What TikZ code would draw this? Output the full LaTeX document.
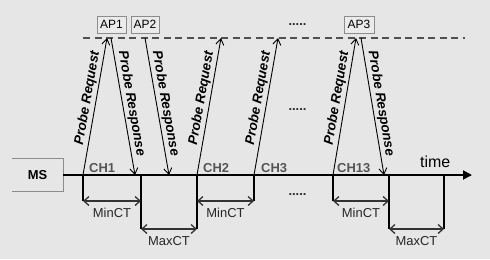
\documentclass[tikz,border=0pt]{standalone}
\usepackage{fontspec}
\setmainfont{Liberation Sans}
\usetikzlibrary{arrows.meta}
\definecolor{bg}{RGB}{230,230,230}
\definecolor{boxline}{RGB}{140,140,140}
\definecolor{chgray}{RGB}{85,85,85}
\definecolor{dashgray}{RGB}{80,80,80}
\begin{document}
\begin{tikzpicture}[x=1bp,y=-1bp,
  msg/.style={line width=0.9bp,-{Straight Barb[length=6bp,width=8bp]}},
  msglabel/.style={font=\fontsize{13.5}{14}\selectfont\bfseries\itshape,
    inner sep=2bp,sloped,above},
  axisline/.style={line width=1.8bp,-{Triangle[length=9bp,width=9bp]}},
  tickline/.style={line width=1.3bp},
  span/.style={line width=1.3bp,draw=black!80,
    {Straight Barb[length=5bp,width=9bp]}-{Straight Barb[length=5bp,width=9bp]}},
  spanlabel/.style={font=\fontsize{13}{13}\selectfont,text=black!85,yshift=-12bp},
  chlabel/.style={font=\fontsize{13}{13}\selectfont\bfseries,text=chgray,
    anchor=base west,inner sep=0pt},
  apbox/.style={draw=boxline,fill=white!20!bg,line width=0.9bp,
    font=\fontsize{12}{12}\selectfont,inner sep=0pt,minimum height=17bp},
  dotsl/.style={font=\fontsize{13}{13}\selectfont\bfseries,text=black!85,inner sep=0pt}
]
\fill[bg] (0,0) rectangle (490,259);
\useasboundingbox (0,0) rectangle (490,259);

% access points above the dashed line
\node[apbox,minimum width=29bp] (ap1) at (111.5,24.5) {AP1};
\node[apbox,minimum width=28bp] (ap2) at (145,24.5) {AP2};
\node[apbox,minimum width=30bp] (ap3) at (359,24.5) {AP3};
\node[dotsl] (dtop) at (297.5,24.5) {.....};
\node[dotsl] (dmid) at (297.5,110) {.....};
\node[dotsl] (dlow) at (297.5,195) {.....};

\coordinate (dl) at (83,38);
\coordinate (dr) at (465,38);
\draw[dashgray,line width=1.5bp,dash pattern=on 7bp off 4.5bp] (dl) -- (dr);

% mobile station and time axis
\node[minimum width=51bp,minimum height=32bp,inner sep=0pt,
  font=\fontsize{13}{13}\selectfont\bfseries] (ms) at (37.5,175) {MS};
\draw[boxline,line width=0.9bp] (ms.north west) -- (ms.north east)
  -- (ms.south east) -- (ms.south west);
\coordinate (tend) at (472,175);
\draw[axisline] (ms.east) -- (tend);
\node[font=\fontsize{16}{16}\selectfont,anchor=base west,inner sep=0pt] (time) at (420,167) {time};

% channel switch instants on the axis
\coordinate (a1) at (83,175);
\coordinate (a2) at (141,175);
\coordinate (a3) at (197,175);
\coordinate (a4) at (254,175);
\coordinate (a5) at (333,175);
\coordinate (a6) at (389,175);
\coordinate (a7) at (444,175);
\coordinate (r1) at (135,175);
\coordinate (r2) at (169,175);
\coordinate (r3) at (384,175);

% points on the dashed line
\coordinate (t1) at (107,38);
\coordinate (t1r) at (111,38);
\coordinate (t2) at (145,38);
\coordinate (t3) at (221,38);
\coordinate (t4) at (278,38);
\coordinate (t5) at (356,38);
\coordinate (t5r) at (361,38);

\node[chlabel] (ch1) at (89,172.5) {CH1};
\node[chlabel] (ch2) at (203,172.5) {CH2};
\node[chlabel] (ch3) at (261,172.5) {CH3};
\node[chlabel] (ch13) at (337,172.5) {CH13};

% probe requests and responses
\draw[msg] (a1) -- node[msglabel,pos=0.55] {Probe Request} (t1);
\draw[msg] (t1r) -- node[msglabel,pos=0.49] {Probe Response} (r1);
\draw[msg] (t2) -- node[msglabel,pos=0.49] {Probe Response} (r2);
\draw[msg] (a3) -- node[msglabel,pos=0.55] {Probe Request} (t3);
\draw[msg] (a4) -- node[msglabel,pos=0.55] {Probe Request} (t4);
\draw[msg] (a5) -- node[msglabel,pos=0.55] {Probe Request} (t5);
\draw[msg] (t5r) -- node[msglabel,pos=0.49] {Probe Response} (r3);

% timer marks below the axis
\coordinate (b1) at (83,201);
\coordinate (b2) at (141,229);
\coordinate (b2m) at (141,201);
\coordinate (b3) at (197,229);
\coordinate (b3m) at (197,201);
\coordinate (b4) at (254,201);
\coordinate (b5) at (333,201);
\coordinate (b6) at (389,229);
\coordinate (b6m) at (389,201);
\coordinate (b7) at (444,229);

\draw[tickline] (a1) -- (b1);
\draw[tickline] (a2) -- (b2);
\draw[tickline] (a3) -- (b3);
\draw[tickline] (a4) -- (b4);
\draw[tickline] (a5) -- (b5);
\draw[tickline] (a6) -- (b6);
\draw[tickline] (a7) -- (b7);

\draw[span] (b1) -- node[spanlabel] {MinCT} (b2m);
\draw[span] (b2) -- node[spanlabel] {MaxCT} (b3);
\draw[span] (b3m) -- node[spanlabel] {MinCT} (b4);
\draw[span] (b5) -- node[spanlabel] {MinCT} (b6m);
\draw[span] (b6) -- node[spanlabel] {MaxCT} (b7);
\end{tikzpicture}
\end{document}
